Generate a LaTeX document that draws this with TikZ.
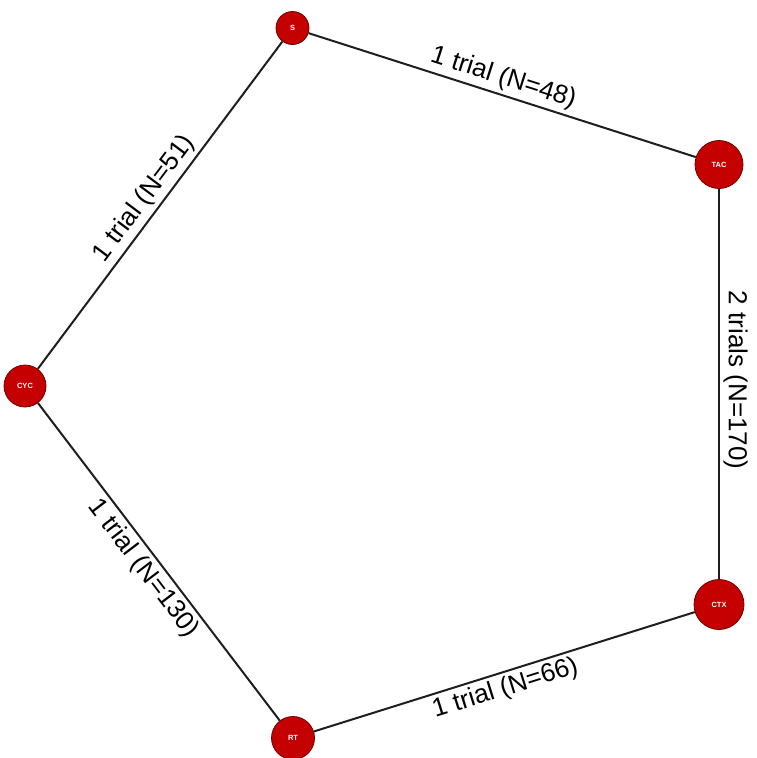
\documentclass[tikz,border=0pt]{standalone}
\usepackage{fontspec}
\setmainfont{Liberation Sans}
\definecolor{nodefill}{RGB}{196,0,0}
\definecolor{nodeline}{RGB}{110,0,0}
\definecolor{edgecol}{RGB}{30,30,30}
\begin{document}
\begin{tikzpicture}[x=1pt,y=-1pt,
  trt/.style={circle,fill=nodefill,draw=nodeline,line width=0.8pt,inner sep=0pt,
    text=white,font=\fontsize{7.5}{8}\selectfont\bfseries},
  link/.style={draw=edgecol,line width=2pt},
  lab/.style={sloped,pos=0.49,inner sep=3.5pt,font=\fontsize{26}{30}\selectfont}]
\useasboundingbox (0,0) rectangle (757,758);
\node[trt,minimum size=33pt] (S) at (292.5,28) {S};
\node[trt,minimum size=48pt] (TAC) at (719,164.5) {TAC};
\node[trt,minimum size=50pt] (CTX) at (719,604.5) {CTX};
\node[trt,minimum size=43pt] (RT) at (293,738) {RT};
\node[trt,minimum size=42pt] (CYC) at (25,386) {CYC};
\path[link] (S) -- node[lab,above] {1 trial (N=48)} (TAC);
\path[link] (TAC) -- node[lab,above] {2 trials (N=170)} (CTX);
\path[link] (RT) -- node[lab,below] {1 trial (N=66)} (CTX);
\path[link] (CYC) -- node[lab,below] {1 trial (N=130)} (RT);
\path[link] (CYC) -- node[lab,above] {1 trial (N=51)} (S);
\end{tikzpicture}
\end{document}
